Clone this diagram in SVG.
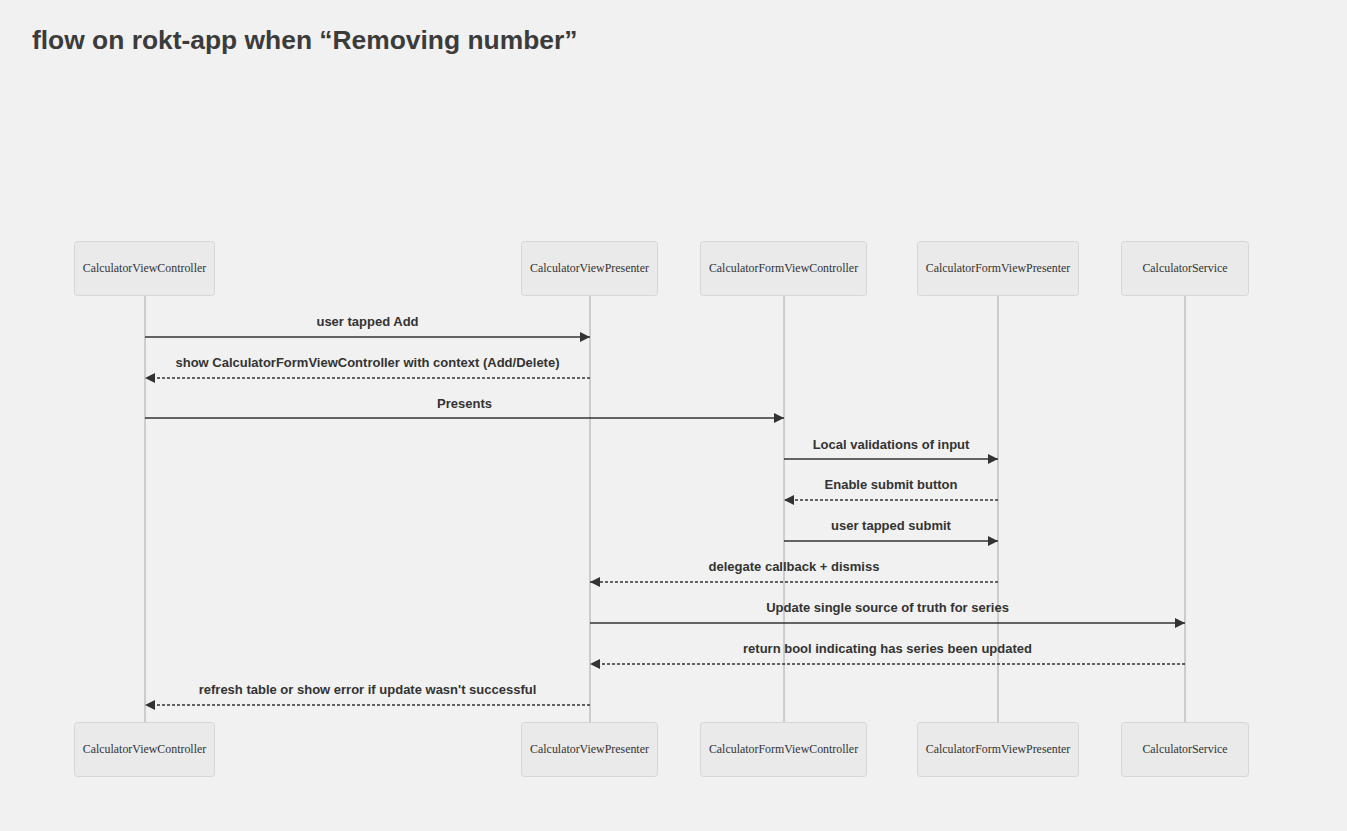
<svg xmlns="http://www.w3.org/2000/svg" width="1347" height="831" viewBox="0 0 1347 831">
<defs>
<marker id="ah" viewBox="0 0 10 10" refX="10" refY="5" markerWidth="10" markerHeight="10" markerUnits="userSpaceOnUse" orient="auto">
<path d="M0,0 L10,5 L0,10 z" fill="#333"/>
</marker>
<style>
.bg{fill:#f1f1f1}
.title{font-family:"Liberation Sans",Arial,sans-serif;font-weight:bold;font-size:26.4px;fill:#3b3b3b}
.actor rect{fill:#eaeaea;stroke:#d6d6d6;stroke-width:1}
.actor text{font-family:"Liberation Serif","Times New Roman",serif;font-size:11.9px;fill:#333;text-anchor:middle;dominant-baseline:central}
.life{stroke:#a8a8a8;stroke-width:1}
.msg{stroke:#333;stroke-width:1.5;fill:none;marker-end:url(#ah)}
.dash{stroke-dasharray:3,2}
.lbl{font-family:"Trebuchet MS","Liberation Sans",Arial,sans-serif;font-weight:bold;font-size:13px;fill:#333;text-anchor:middle}
</style>
</defs>
<rect class="bg" x="0" y="0" width="1347" height="831"/>
<text class="title" x="32" y="49">flow on rokt-app when “Removing number”</text>

<g id="lifelines">
<line class="life" x1="145" y1="296" x2="145" y2="722"/>
<line class="life" x1="590" y1="296" x2="590" y2="722"/>
<line class="life" x1="784" y1="296" x2="784" y2="722"/>
<line class="life" x1="998" y1="296" x2="998" y2="722"/>
<line class="life" x1="1185" y1="296" x2="1185" y2="722"/>
</g>

<g id="node-cvc-top" class="actor"><rect x="74.5" y="241.5" width="140" height="54" rx="3"/><text x="144.5" y="268">CalculatorViewController</text></g>
<g id="node-cvp-top" class="actor"><rect x="521.5" y="241.5" width="136" height="54" rx="3"/><text x="589.5" y="268">CalculatorViewPresenter</text></g>
<g id="node-cfvc-top" class="actor"><rect x="700.5" y="241.5" width="166" height="54" rx="3"/><text x="783.5" y="268">CalculatorFormViewController</text></g>
<g id="node-cfvp-top" class="actor"><rect x="917.5" y="241.5" width="161" height="54" rx="3"/><text x="998" y="268">CalculatorFormViewPresenter</text></g>
<g id="node-cs-top" class="actor"><rect x="1121.5" y="241.5" width="127" height="54" rx="3"/><text x="1185" y="268">CalculatorService</text></g>

<g id="node-cvc-bottom" class="actor"><rect x="74.5" y="722.5" width="140" height="54" rx="3"/><text x="144.5" y="749">CalculatorViewController</text></g>
<g id="node-cvp-bottom" class="actor"><rect x="521.5" y="722.5" width="136" height="54" rx="3"/><text x="589.5" y="749">CalculatorViewPresenter</text></g>
<g id="node-cfvc-bottom" class="actor"><rect x="700.5" y="722.5" width="166" height="54" rx="3"/><text x="783.5" y="749">CalculatorFormViewController</text></g>
<g id="node-cfvp-bottom" class="actor"><rect x="917.5" y="722.5" width="161" height="54" rx="3"/><text x="998" y="749">CalculatorFormViewPresenter</text></g>
<g id="node-cs-bottom" class="actor"><rect x="1121.5" y="722.5" width="127" height="54" rx="3"/><text x="1185" y="749">CalculatorService</text></g>

<g id="connectors">
<line class="msg" x1="145" y1="337" x2="590" y2="337"/>
<text class="lbl" x="367.5" y="326">user tapped Add</text>
<line class="msg dash" x1="590" y1="378" x2="145" y2="378"/>
<text class="lbl" x="367.5" y="367">show CalculatorFormViewController with context (Add/Delete)</text>
<line class="msg" x1="145" y1="418" x2="784" y2="418"/>
<text class="lbl" x="464.5" y="408">Presents</text>
<line class="msg" x1="784" y1="459" x2="998" y2="459"/>
<text class="lbl" x="891" y="449">Local validations of input</text>
<line class="msg dash" x1="998" y1="500" x2="784" y2="500"/>
<text class="lbl" x="891" y="489">Enable submit button</text>
<line class="msg" x1="784" y1="541" x2="998" y2="541"/>
<text class="lbl" x="891" y="530">user tapped submit</text>
<line class="msg dash" x1="998" y1="582" x2="590" y2="582"/>
<text class="lbl" x="794" y="571">delegate callback + dismiss</text>
<line class="msg" x1="590" y1="623" x2="1185" y2="623"/>
<text class="lbl" x="887.5" y="612">Update single source of truth for series</text>
<line class="msg dash" x1="1185" y1="664" x2="590" y2="664"/>
<text class="lbl" x="887.5" y="653">return bool indicating has series been updated</text>
<line class="msg dash" x1="590" y1="705" x2="145" y2="705"/>
<text class="lbl" x="367.5" y="694">refresh table or show error if update wasn't successful</text>
</g>
</svg>
